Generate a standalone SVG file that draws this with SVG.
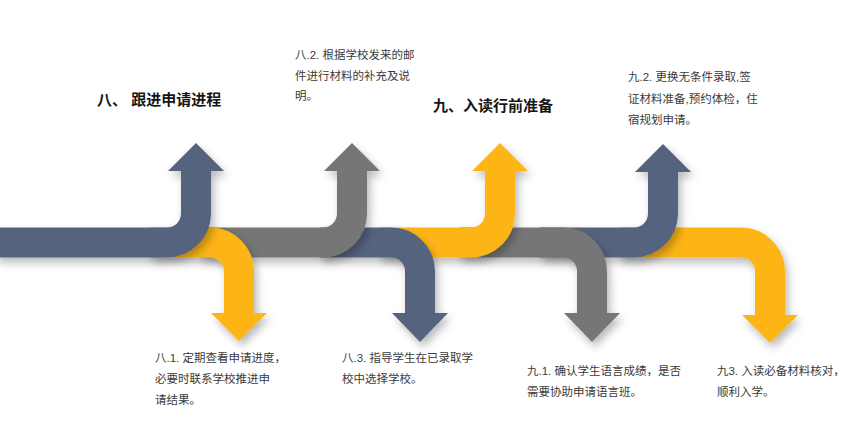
<svg xmlns="http://www.w3.org/2000/svg" width="860" height="434" viewBox="0 0 860 434">
<defs>
<filter id="sh" filterUnits="userSpaceOnUse" x="-50" y="0" width="960" height="434">
<feDropShadow dx="3" dy="5" stdDeviation="4" flood-color="#000" flood-opacity="0.28"/>
</filter>
</defs>
<style>
.rb{fill:none;stroke-width:30;stroke-linecap:butt;stroke-linejoin:miter}
.b{stroke:#56637F}.bf{fill:#56637F}
.y{stroke:#FDB515}.yf{fill:#FDB515}
.g{stroke:#767676}.gf{fill:#767676}
.h{font-family:"Liberation Sans","Noto Sans CJK SC",sans-serif;font-size:15px;font-weight:bold;fill:#151515}
.t{font-family:"Liberation Sans","Noto Sans CJK SC",sans-serif;font-size:11.5px;fill:#3a3a3a}
</style>
<rect width="860" height="434" fill="#fff"/>
<g id="connectors">
<g id="arrow-9-3" filter="url(#sh)">
<path class="rb y" d="M620 242.5 H741 A29 29 0 0 1 770 271.5 V316"/>
<polygon class="yf" points="742,315 798,315 770,343"/>
</g>
<g id="arrow-9-2" filter="url(#sh)">
<path class="rb b" d="M540 242.5 H634 A29 29 0 0 0 663 213.5 V171"/>
<polygon class="bf" points="635,172 663,144 691,172"/>
</g>
<g id="arrow-9-1" filter="url(#sh)">
<path class="rb g" d="M460 242.5 H563 A29 29 0 0 1 592 271.5 V314"/>
<polygon class="gf" points="564,313 620,313 592,342"/>
</g>
<g id="arrow-9" filter="url(#sh)">
<path class="rb y" d="M380 242.5 H471 A29 29 0 0 0 500 213.5 V170"/>
<polygon class="yf" points="472,171 500,143 528,171"/>
</g>
<g id="arrow-8-3" filter="url(#sh)">
<path class="rb b" d="M320 242.5 H391 A29 29 0 0 1 420 271.5 V314"/>
<polygon class="bf" points="392,313 448,313 420,342"/>
</g>
<g id="arrow-8-2" filter="url(#sh)">
<path class="rb g" d="M200 242.5 H323 A29 29 0 0 0 352 213.5 V170"/>
<polygon class="gf" points="324,171 352,143 380,171"/>
</g>
<g id="arrow-8-1" filter="url(#sh)">
<path class="rb y" d="M150 242.5 H210 A29 29 0 0 1 239 271.5 V314"/>
<polygon class="yf" points="211,313 267,313 239,341"/>
</g>
<g id="arrow-8" filter="url(#sh)">
<path class="rb b" d="M-5 242.5 H167 A29 29 0 0 0 196 213.5 V170"/>
<polygon class="bf" points="168,171 196,143 224,171"/>
</g>
</g>
<g id="node-8">
<text class="h" x="97" y="105">八、 跟进申请进程</text>
</g>
<g id="node-9">
<text class="h" x="433" y="111">九、入读行前准备</text>
</g>
<g id="node-8-2">
<text class="t" x="295" y="59">八.2. 根据学校发来的邮</text>
<text class="t" x="295" y="79.5">件进行材料的补充及说</text>
<text class="t" x="295" y="100">明。</text>
</g>
<g id="node-9-2">
<text class="t" x="628" y="81">九.2. 更换无条件录取,签</text>
<text class="t" x="628" y="102.5">证材料准备,预约体检，住</text>
<text class="t" x="628" y="123.5">宿规划申请。</text>
</g>
<g id="node-8-1">
<text class="t" x="155" y="362">八.1. 定期查看申请进度，</text>
<text class="t" x="155" y="383">必要时联系学校推进申</text>
<text class="t" x="155" y="403.5">请结果。</text>
</g>
<g id="node-8-3">
<text class="t" x="342" y="362">八.3. 指导学生在已录取学</text>
<text class="t" x="342" y="383">校中选择学校。</text>
</g>
<g id="node-9-1">
<text class="t" x="527" y="375">九.1. 确认学生语言成绩，是否</text>
<text class="t" x="527" y="396">需要协助申请语言班。</text>
</g>
<g id="node-9-3">
<text class="t" x="717" y="375">九3. 入读必备材料核对，</text>
<text class="t" x="717" y="396">顺利入学。</text>
</g>
</svg>
